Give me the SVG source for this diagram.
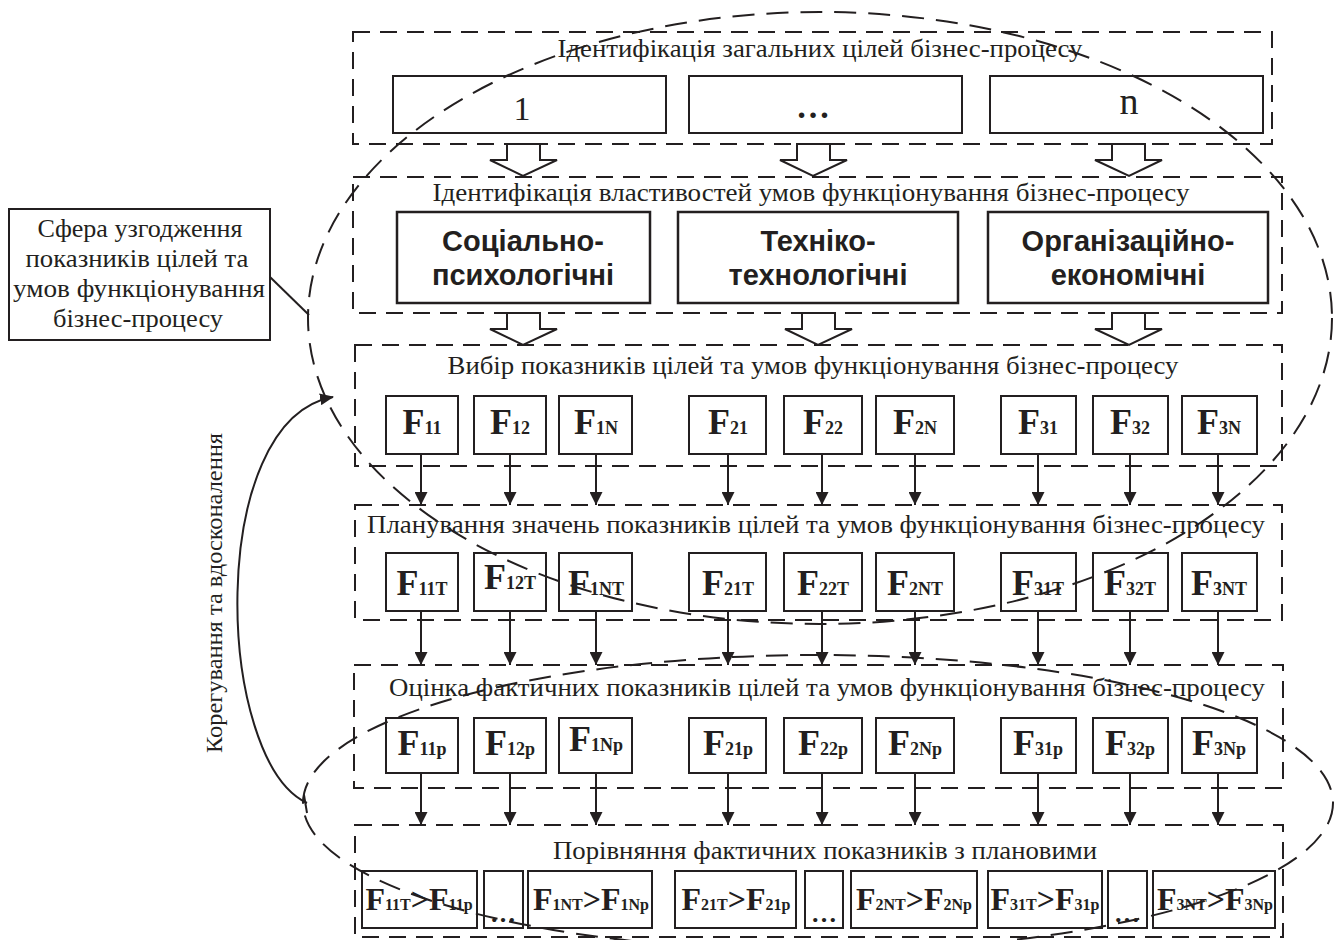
<svg xmlns="http://www.w3.org/2000/svg" width="1335" height="940" viewBox="0 0 1335 940">
<style>
.panel{fill:none;stroke:#231f20;stroke-width:2;stroke-dasharray:17 10}
.ell{fill:none;stroke:#231f20;stroke-width:2;stroke-dasharray:22 12}
.box{fill:none;stroke:#231f20;stroke-width:2}
.bbox{fill:none;stroke:#231f20;stroke-width:2.5}
.hollow{fill:#fff;stroke:#231f20;stroke-width:2}
.t{font-family:"Liberation Serif","Times New Roman",serif;fill:#231f20}
.title{font-size:26px;text-anchor:middle}
.note{font-size:25px;text-anchor:middle}
.fl{font-family:"Liberation Serif","Times New Roman",serif;font-weight:bold;fill:#231f20;text-anchor:middle}
.F{font-size:36px}
.s{font-size:18px}
.F6{font-size:32px}
.s6{font-size:16px}
.sans{font-family:"Liberation Sans",Arial,sans-serif;font-weight:bold;font-size:29px;fill:#231f20;text-anchor:middle}
.con{stroke:#231f20;stroke-width:2;fill:none}
</style>
<defs>
<marker id="ah" viewBox="0 0 12 12" refX="12" refY="6" markerWidth="13" markerHeight="13" markerUnits="userSpaceOnUse" orient="auto">
<path d="M0,0 L12,6 L0,12 Z" fill="#231f20"/>
</marker>
<marker id="ah2" viewBox="0 0 14 12" refX="13" refY="6" markerWidth="14" markerHeight="12" markerUnits="userSpaceOnUse" orient="auto">
<path d="M0,0 L14,6 L0,12 Z" fill="#231f20"/>
</marker>
</defs>

<g id="panel1">
<rect class="panel" x="353" y="32" width="919" height="112"/>
<text class="t title" x="820" y="57" textLength="525" lengthAdjust="spacingAndGlyphs">Ідентифікація загальних цілей бізнес-процесу</text>
<rect class="box" x="393" y="76" width="273" height="57"/>
<text class="t" x="522" y="120" font-size="34" text-anchor="middle">1</text>
<rect class="box" x="689" y="76" width="273" height="57"/>
<text class="t" x="813" y="118" font-size="34" font-weight="bold" text-anchor="middle">…</text>
<rect class="box" x="990" y="76" width="273" height="57"/>
<text class="t" x="1129" y="114" font-size="38" text-anchor="middle">n</text>
</g>

<g id="panel2">
<rect class="panel" x="353" y="177" width="929" height="136"/>
<text class="t title" x="811" y="201" textLength="757" lengthAdjust="spacingAndGlyphs">Ідентифікація властивостей умов функціонування бізнес-процесу</text>
<rect class="bbox" x="397" y="212" width="253" height="91"/>
<text class="sans" x="523" y="251">Соціально-</text>
<text class="sans" x="523" y="285">психологічні</text>
<rect class="bbox" x="678" y="212" width="280" height="91"/>
<text class="sans" x="818" y="251">Техніко-</text>
<text class="sans" x="818" y="285">технологічні</text>
<rect class="bbox" x="988" y="212" width="280" height="91"/>
<text class="sans" x="1128" y="251">Організаційно-</text>
<text class="sans" x="1128" y="285">економічні</text>
</g>

<g id="panel3">
<rect class="panel" x="355" y="345" width="927" height="121"/>
<text class="t title" x="813" y="374" textLength="731" lengthAdjust="spacingAndGlyphs">Вибір показників цілей та умов функціонування бізнес-процесу</text>
<rect class="box" x="386" y="396" width="72" height="58"/>
<text class="fl" x="422" y="434"><tspan class="F">F</tspan><tspan class="s">11</tspan></text>
<rect class="box" x="474" y="396" width="72" height="58"/>
<text class="fl" x="510" y="434"><tspan class="F">F</tspan><tspan class="s">12</tspan></text>
<rect class="box" x="559" y="396" width="73" height="58"/>
<text class="fl" x="596" y="434"><tspan class="F">F</tspan><tspan class="s">1N</tspan></text>
<rect class="box" x="689" y="396" width="77" height="58"/>
<text class="fl" x="728" y="434"><tspan class="F">F</tspan><tspan class="s">21</tspan></text>
<rect class="box" x="784" y="396" width="78" height="58"/>
<text class="fl" x="823" y="434"><tspan class="F">F</tspan><tspan class="s">22</tspan></text>
<rect class="box" x="876" y="396" width="78" height="58"/>
<text class="fl" x="915" y="434"><tspan class="F">F</tspan><tspan class="s">2N</tspan></text>
<rect class="box" x="1001" y="396" width="75" height="58"/>
<text class="fl" x="1038" y="434"><tspan class="F">F</tspan><tspan class="s">31</tspan></text>
<rect class="box" x="1093" y="396" width="75" height="58"/>
<text class="fl" x="1130" y="434"><tspan class="F">F</tspan><tspan class="s">32</tspan></text>
<rect class="box" x="1182" y="396" width="75" height="58"/>
<text class="fl" x="1219" y="434"><tspan class="F">F</tspan><tspan class="s">3N</tspan></text>
</g>

<g id="panel4">
<rect class="panel" x="355" y="505" width="927" height="115"/>
<text class="t title" x="816" y="533" textLength="898" lengthAdjust="spacingAndGlyphs">Планування значень показників цілей та умов функціонування бізнес-процесу</text>
<rect class="box" x="386" y="553" width="72" height="58"/>
<text class="fl" x="422" y="595"><tspan class="F">F</tspan><tspan class="s">11T</tspan></text>
<rect class="box" x="474" y="553" width="72" height="58"/>
<text class="fl" x="510" y="589"><tspan class="F">F</tspan><tspan class="s">12T</tspan></text>
<rect class="box" x="559" y="553" width="73" height="58"/>
<text class="fl" x="596" y="595"><tspan class="F">F</tspan><tspan class="s">1NT</tspan></text>
<rect class="box" x="689" y="553" width="77" height="58"/>
<text class="fl" x="728" y="595"><tspan class="F">F</tspan><tspan class="s">21T</tspan></text>
<rect class="box" x="784" y="553" width="78" height="58"/>
<text class="fl" x="823" y="595"><tspan class="F">F</tspan><tspan class="s">22T</tspan></text>
<rect class="box" x="876" y="553" width="78" height="58"/>
<text class="fl" x="915" y="595"><tspan class="F">F</tspan><tspan class="s">2NT</tspan></text>
<rect class="box" x="1001" y="553" width="75" height="58"/>
<text class="fl" x="1038" y="595"><tspan class="F">F</tspan><tspan class="s">31T</tspan></text>
<rect class="box" x="1093" y="553" width="75" height="58"/>
<text class="fl" x="1130" y="595"><tspan class="F">F</tspan><tspan class="s">32T</tspan></text>
<rect class="box" x="1182" y="553" width="75" height="58"/>
<text class="fl" x="1219" y="595"><tspan class="F">F</tspan><tspan class="s">3NT</tspan></text>
</g>

<g id="panel5">
<rect class="panel" x="354" y="665" width="929" height="123"/>
<text class="t title" x="827" y="696" textLength="876" lengthAdjust="spacingAndGlyphs">Оцінка фактичних показників цілей та умов функціонування бізнес-процесу</text>
<rect class="box" x="386" y="718" width="72" height="55"/>
<text class="fl" x="422" y="755"><tspan class="F">F</tspan><tspan class="s">11p</tspan></text>
<rect class="box" x="474" y="718" width="72" height="55"/>
<text class="fl" x="510" y="755"><tspan class="F">F</tspan><tspan class="s">12p</tspan></text>
<rect class="box" x="559" y="718" width="73" height="55"/>
<text class="fl" x="596" y="751"><tspan class="F">F</tspan><tspan class="s">1Np</tspan></text>
<rect class="box" x="689" y="718" width="77" height="55"/>
<text class="fl" x="728" y="755"><tspan class="F">F</tspan><tspan class="s">21p</tspan></text>
<rect class="box" x="784" y="718" width="78" height="55"/>
<text class="fl" x="823" y="755"><tspan class="F">F</tspan><tspan class="s">22p</tspan></text>
<rect class="box" x="876" y="718" width="78" height="55"/>
<text class="fl" x="915" y="755"><tspan class="F">F</tspan><tspan class="s">2Np</tspan></text>
<rect class="box" x="1001" y="718" width="75" height="55"/>
<text class="fl" x="1038" y="755"><tspan class="F">F</tspan><tspan class="s">31p</tspan></text>
<rect class="box" x="1093" y="718" width="75" height="55"/>
<text class="fl" x="1130" y="755"><tspan class="F">F</tspan><tspan class="s">32p</tspan></text>
<rect class="box" x="1182" y="718" width="75" height="55"/>
<text class="fl" x="1219" y="755"><tspan class="F">F</tspan><tspan class="s">3Np</tspan></text>
</g>

<g id="panel6">
<rect class="panel" x="355" y="825" width="928" height="112"/>
<text class="t title" x="825" y="859" textLength="544" lengthAdjust="spacingAndGlyphs">Порівняння фактичних показників з плановими</text>
<rect class="box" x="362" y="871" width="115" height="57"/>
<text class="fl" x="419" y="910"><tspan class="F6">F</tspan><tspan class="s6">11T</tspan><tspan class="F6">&gt;F</tspan><tspan class="s6">11p</tspan></text>
<rect class="box" x="484" y="871" width="39" height="57"/>
<text class="fl" x="503" y="922" font-size="26">…</text>
<rect class="box" x="528" y="871" width="124" height="57"/>
<text class="fl" x="591" y="910"><tspan class="F6">F</tspan><tspan class="s6">1NT</tspan><tspan class="F6">&gt;F</tspan><tspan class="s6">1Np</tspan></text>
<rect class="box" x="675" y="871" width="121" height="57"/>
<text class="fl" x="736" y="910"><tspan class="F6">F</tspan><tspan class="s6">21T</tspan><tspan class="F6">&gt;F</tspan><tspan class="s6">21p</tspan></text>
<rect class="box" x="805" y="871" width="38" height="57"/>
<text class="fl" x="824" y="922" font-size="26">…</text>
<rect class="box" x="851" y="871" width="126" height="57"/>
<text class="fl" x="914" y="910"><tspan class="F6">F</tspan><tspan class="s6">2NT</tspan><tspan class="F6">&gt;F</tspan><tspan class="s6">2Np</tspan></text>
<rect class="box" x="988" y="871" width="114" height="57"/>
<text class="fl" x="1045" y="910"><tspan class="F6">F</tspan><tspan class="s6">31T</tspan><tspan class="F6">&gt;F</tspan><tspan class="s6">31p</tspan></text>
<rect class="box" x="1108" y="871" width="39" height="57"/>
<text class="fl" x="1127" y="922" font-size="26">…</text>
<rect class="box" x="1153" y="871" width="122" height="57"/>
<text class="fl" x="1215" y="910"><tspan class="F6">F</tspan><tspan class="s6">3NT</tspan><tspan class="F6">&gt;F</tspan><tspan class="s6">3Np</tspan></text>
</g>

<g id="note">
<rect class="box" x="9" y="209" width="261" height="131"/>
<text class="t note" x="140" y="237" textLength="205" lengthAdjust="spacingAndGlyphs">Сфера узгодження</text>
<text class="t note" x="137" y="267" textLength="223" lengthAdjust="spacingAndGlyphs">показників цілей та</text>
<text class="t note" x="139" y="297" textLength="252" lengthAdjust="spacingAndGlyphs">умов функціонування</text>
<text class="t note" x="138" y="327" textLength="170" lengthAdjust="spacingAndGlyphs">бізнес-процесу</text>
</g>

<g id="correction-label">
<text class="t" font-size="24" text-anchor="middle" transform="translate(222 593) rotate(-90)" textLength="320" lengthAdjust="spacingAndGlyphs">Корегування та вдосконалення</text>
</g>

<g id="connectors">
<path class="hollow" d="M507,144 L540,144 L540,160 L557,160 L523,176 L490,160 L507,160 Z"/>
<path class="hollow" d="M797,144 L830,144 L830,160 L847,160 L813,176 L780,160 L797,160 Z"/>
<path class="hollow" d="M1112,144 L1145,144 L1145,160 L1162,160 L1129,176 L1095,160 L1112,160 Z"/>
<path class="hollow" d="M507,313 L540,313 L540,329 L557,329 L523,345 L490,329 L507,329 Z"/>
<path class="hollow" d="M802,313 L835,313 L835,329 L852,329 L818,345 L785,329 L802,329 Z"/>
<path class="hollow" d="M1112,313 L1145,313 L1145,329 L1162,329 L1129,345 L1095,329 L1112,329 Z"/>

<g marker-end="url(#ah)">
<line class="con" x1="421" y1="454" x2="421" y2="505"/>
<line class="con" x1="510" y1="454" x2="510" y2="505"/>
<line class="con" x1="596" y1="454" x2="596" y2="505"/>
<line class="con" x1="728" y1="454" x2="728" y2="505"/>
<line class="con" x1="822" y1="454" x2="822" y2="505"/>
<line class="con" x1="915" y1="454" x2="915" y2="505"/>
<line class="con" x1="1038" y1="454" x2="1038" y2="505"/>
<line class="con" x1="1130" y1="454" x2="1130" y2="505"/>
<line class="con" x1="1218" y1="454" x2="1218" y2="505"/>

<line class="con" x1="421" y1="611" x2="421" y2="665"/>
<line class="con" x1="510" y1="611" x2="510" y2="665"/>
<line class="con" x1="596" y1="611" x2="596" y2="665"/>
<line class="con" x1="728" y1="611" x2="728" y2="665"/>
<line class="con" x1="822" y1="611" x2="822" y2="665"/>
<line class="con" x1="915" y1="611" x2="915" y2="665"/>
<line class="con" x1="1038" y1="611" x2="1038" y2="665"/>
<line class="con" x1="1130" y1="611" x2="1130" y2="665"/>
<line class="con" x1="1218" y1="611" x2="1218" y2="665"/>

<line class="con" x1="421" y1="773" x2="421" y2="825"/>
<line class="con" x1="510" y1="773" x2="510" y2="825"/>
<line class="con" x1="596" y1="773" x2="596" y2="825"/>
<line class="con" x1="728" y1="773" x2="728" y2="825"/>
<line class="con" x1="822" y1="773" x2="822" y2="825"/>
<line class="con" x1="915" y1="773" x2="915" y2="825"/>
<line class="con" x1="1038" y1="773" x2="1038" y2="825"/>
<line class="con" x1="1130" y1="773" x2="1130" y2="825"/>
<line class="con" x1="1218" y1="773" x2="1218" y2="825"/>
</g>

<line class="con" x1="270" y1="277" x2="309" y2="315"/>
<path class="con" d="M307,803 C215,760 205,420 333,397" marker-end="url(#ah2)"/>
<line class="con" x1="304" y1="795" x2="307" y2="813"/>

<ellipse class="ell" cx="820" cy="318" rx="512" ry="306"/>
<ellipse class="ell" cx="818" cy="803" rx="515" ry="148"/>
</g>
</svg>
